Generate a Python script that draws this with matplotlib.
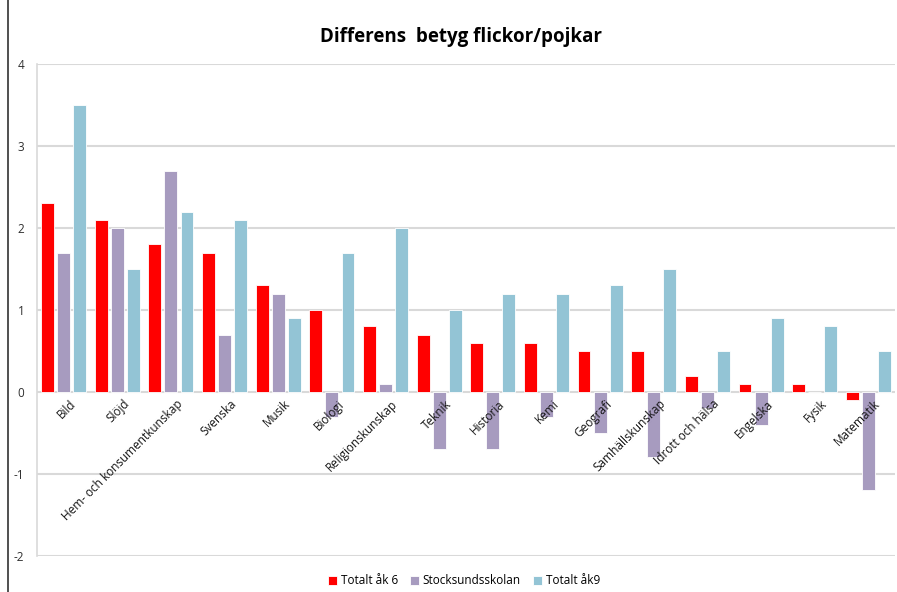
import matplotlib.pyplot as plt
import numpy as np
from matplotlib.lines import Line2D

plt.rcParams["font.family"] = ["Open Sans", "DejaVu Sans"]
plt.rcParams["axes.unicode_minus"] = False

subjects = [
    "Bild", "Slöjd", "Hem- och konsumentkunskap", "Svenska", "Musik", "Biologi",
    "Religionskunskap", "Teknik", "Historia", "Kemi", "Geografi", "Samhällskunskap",
    "Idrott och hälsa", "Engelska", "Fysik", "Matematik",
]
series_names = ["Totalt åk 6", "Stocksundsskolan", "Totalt åk9"]
totalt_ak6 = [2.3, 2.1, 1.8, 1.7, 1.3, 1.0, 0.8, 0.7, 0.6, 0.6, 0.5, 0.5, 0.2, 0.1, 0.1, -0.1]
stocksund = [1.7, 2.0, 2.7, 0.7, 1.2, -0.3, 0.1, -0.7, -0.7, -0.3, -0.5, -0.8, -0.2, -0.4, 0.0, -1.2]
totalt_ak9 = [3.5, 1.5, 2.2, 2.1, 0.9, 1.7, 2.0, 1.0, 1.2, 1.2, 1.3, 1.5, 0.5, 0.9, 0.8, 0.5]
colors = ["#FF0000", "#A79BBF", "#93C4D5"]

fig = plt.figure(figsize=(8.97, 5.92), dpi=100)
ax = fig.add_axes([0.041, 0.061, 0.957, 0.831])

x = np.arange(len(subjects))
offsets = [-0.3, 0.0, 0.3]
for vals, off, col, name in zip([totalt_ak6, stocksund, totalt_ak9], offsets, colors, series_names):
    ax.bar(x + off, vals, width=0.24, color=col, edgecolor="white", linewidth=0.6,
           label=name, zorder=3)

ax.set_xlim(-0.5, len(subjects) - 0.5)
ax.set_ylim(-2, 4)
ax.set_yticks(range(-2, 5))
ax.yaxis.grid(True, color="#D9D9D9", linewidth=1.5, zorder=0)
ax.set_axisbelow(True)
for s in ["top", "right", "bottom"]:
    ax.spines[s].set_visible(False)
ax.spines["left"].set_color("#D9D9D9")
ax.spines["left"].set_linewidth(1.2)
ax.tick_params(axis="y", length=0, pad=9, labelsize=8.5, labelcolor="#303030")
ax.set_xticks([])

# category labels sit just under the zero line, rotated like in Excel
for i, name in enumerate(subjects):
    ax.annotate(name, xy=(i, 0), xytext=(4, -4), textcoords="offset points",
                rotation=45, ha="right", va="top", rotation_mode="anchor",
                fontsize=8.5, color="#151515", zorder=4)

fig.text(0.514, 0.9375, "Differens  betyg flickor/pojkar", ha="center", va="center",
         fontsize=13.5, fontweight="bold", color="black")

ax.legend(loc="center", bbox_to_anchor=(0.517, 0.019), bbox_transform=fig.transFigure,
          ncol=3, frameon=False, fontsize=8.5, handlelength=0.8, handleheight=0.8,
          handletextpad=0.3, columnspacing=1.0)

fig.add_artist(Line2D([8 / 897, 8 / 897], [0, 1], color="#505050", linewidth=1.4))

fig.savefig("out.png", dpi=100)
